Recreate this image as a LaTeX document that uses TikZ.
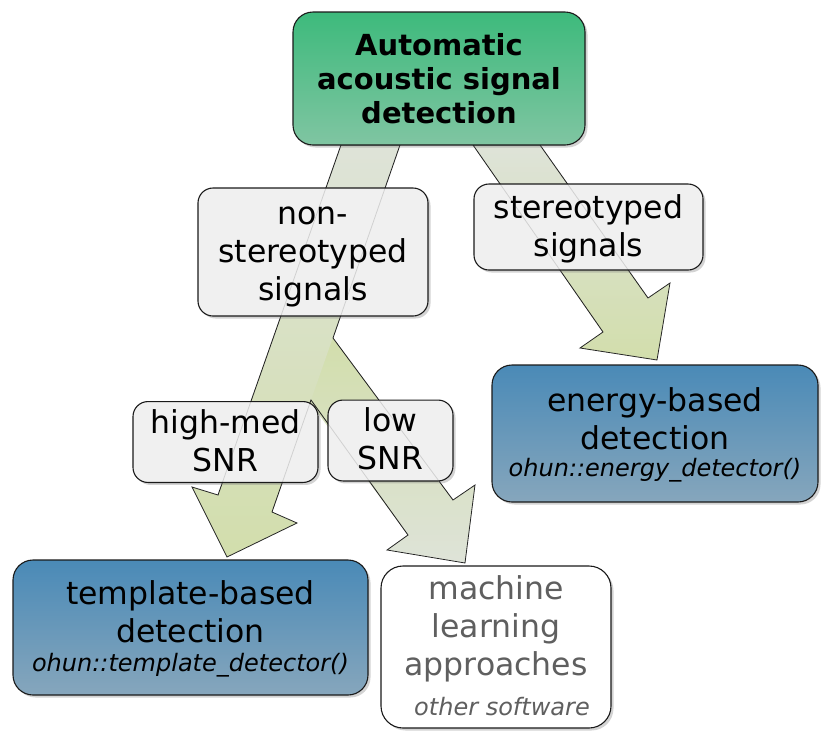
\documentclass[tikz,border=0pt]{standalone}
\usepackage{fontspec}
\setmainfont{DejaVu Sans}
\usetikzlibrary{shadows}
\definecolor{greenT}{HTML}{3DBA7C}
\definecolor{greenB}{HTML}{80C5A2}
\definecolor{blueT}{HTML}{4A8AB7}
\definecolor{blueB}{HTML}{86A6BC}
\definecolor{labfill}{HTML}{F0F0F0}
\definecolor{arrGray}{HTML}{DEE3D8}
\definecolor{arrGreen}{HTML}{D2DEAC}
\definecolor{mlgray}{HTML}{5F5F5F}
\definecolor{edgec}{HTML}{1A1A1A}
\newcommand\tstr{\rule{0pt}{31.5pt}}
\newcommand\bstr{\rule[-11.4pt]{0pt}{11.4pt}}
\newcommand\istr{\rule[-10.5pt]{0pt}{10.5pt}}
\begin{document}
\begin{tikzpicture}[x=1pt,y=-1pt,
  boxbase/.style={draw=edgec, line width=1.1pt, inner sep=0pt, align=center,
    font=\fontsize{31.5}{38}\selectfont,
    drop shadow={opacity=0.35,shadow xshift=2.5pt,shadow yshift=-2.5pt}},
  topbox/.style={boxbase, rounded corners=20pt, top color=greenT, bottom color=greenB,
    font=\fontsize{29}{34}\selectfont\bfseries},
  bluebox/.style={boxbase, rounded corners=20pt, top color=blueT, bottom color=blueB},
  mlbox/.style={boxbase, rounded corners=22pt, fill=white, text=mlgray},
  labbox/.style={boxbase, rounded corners=15pt, fill=labfill},
  fatarrow/.style={draw=none},
  arrowedge/.style={draw=black!85, line width=0.8pt, line join=miter},
  faintedge/.style={draw=black, draw opacity=0.13, line width=0.8pt, line join=miter}
]
\useasboundingbox (0,0) rectangle (831,740);

% fat arrows
\path[fatarrow, top color=arrGreen, bottom color=arrGray]
  (286,370) -- (333,338) -- (453,500) -- (475,485) -- (465,563) -- (387,550) -- (408,535) -- cycle;
\path[fatarrow, top color=arrGray, bottom color=arrGreen]
  (341,145) -- (400,145) -- (272,512) -- (297,523) -- (227,557) -- (192,487) -- (218,495) -- cycle;
\path[fatarrow, top color=arrGray, bottom color=arrGreen]
  (473,145) -- (540,145) -- (648,298) -- (670,283) -- (657,360) -- (580,348) -- (603,332) -- cycle;
\draw[arrowedge]
  (341,145) -- (400,145) -- (333,338) -- (453,500) -- (475,485) -- (465,563) -- (387,550)
  -- (408,535) -- (311,400) -- (272,512) -- (297,523) -- (227,557) -- (192,487) -- (218,495) -- cycle;
\draw[arrowedge]
  (473,145) -- (540,145) -- (648,298) -- (670,283) -- (657,360) -- (580,348) -- (603,332) -- cycle;

% boxes
\node[topbox, minimum width=292pt, minimum height=133pt] (top) at (439,78.5)
  {Automatic\\acoustic signal\\detection};
\node[labbox, minimum width=230pt, minimum height=128pt] (nonst) at (313,252)
  {\tstr non-\\stereotyped\\signals\bstr};
\node[labbox, minimum width=229pt, minimum height=86pt] (stereo) at (588.5,227)
  {\tstr stereotyped\\signals\bstr};
\node[labbox, minimum width=185pt, minimum height=78pt] (highmed) at (225.5,442)
  {\tstr high-med\\SNR\bstr};
\node[labbox, minimum width=125pt, minimum height=77pt] (low) at (390.5,440.5)
  {\tstr low\\SNR\bstr};

% arrow outlines faintly seen through the label boxes
\draw[faintedge] (341,145) -- (218,495);
\draw[faintedge] (400,145) -- (333,338);
\draw[faintedge] (311,400) -- (272,512);
\draw[faintedge] (311,400) -- (408,535);
\draw[faintedge] (333,338) -- (453,500);
\draw[faintedge] (473,145) -- (603,332);
\draw[faintedge] (540,145) -- (648,298);

\node[bluebox, minimum width=326pt, minimum height=137pt] (energy) at (655,433.5)
  {\tstr energy-based\\detection\\[-11pt]{\fontsize{24}{29}\selectfont\itshape ohun::energy\_detector()\istr}};
\node[bluebox, minimum width=355pt, minimum height=135pt] (template) at (190.5,627.5)
  {\tstr template-based\\detection\\[-9pt]{\fontsize{24}{29}\selectfont\itshape ohun::template\_detector()\istr}};
\node[mlbox, minimum width=230pt, minimum height=162pt] (ml) at (496,647)
  {\tstr machine\\learning\\approaches\\[2pt]{\fontsize{24}{29}\selectfont\itshape\hspace*{12pt}other software\istr}};
\end{tikzpicture}
\end{document}
